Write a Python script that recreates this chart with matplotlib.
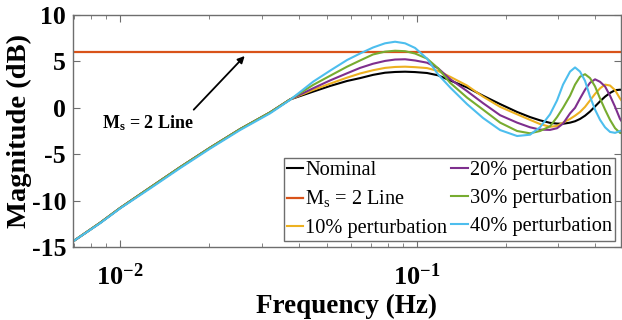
import numpy as np
import matplotlib
matplotlib.use("Agg")
import matplotlib.pyplot as plt
from matplotlib.ticker import FixedLocator, FuncFormatter, LogLocator, NullFormatter

plt.rcParams['font.family'] = ['Liberation Serif', 'DejaVu Serif']
plt.rcParams['mathtext.fontset'] = 'custom'
plt.rcParams['mathtext.rm'] = 'Liberation Serif'
plt.rcParams['mathtext.bf'] = 'Liberation Serif:bold'
plt.rcParams['axes.unicode_minus'] = False

# frequency grid (Hz)
freq = [0.00694, 0.00856, 0.0100, 0.01262, 0.01594, 0.02011, 0.02538, 0.03203,
        0.03741, 0.04472, 0.05103, 0.05822, 0.06441, 0.07125, 0.07817, 0.08451,
        0.09133, 0.09869, 0.1083, 0.1180, 0.1295, 0.1477, 0.1673, 0.1910,
        0.2179, 0.2409, 0.2603, 0.2813, 0.2971, 0.3112, 0.3286, 0.3416,
        0.3551, 0.3692, 0.3838, 0.3990, 0.4148, 0.4312, 0.4482, 0.4661,
        0.4843, 0.5036]

low_common = [-14.4, -12.4, -10.8, -8.6, -6.4, -4.3, -2.3, -0.5, 0.9]
low_blue = [-14.4, -12.45, -10.85, -8.7, -6.5, -4.4, -2.4, -0.6, 0.85]

nominal = low_common + [1.74, 2.35, 2.89, 3.2, 3.55, 3.78, 3.86, 3.89, 3.85, 3.75,
                        3.5, 2.95, 2.2, 1.3, 0.4, -0.45, -1.0, -1.35, -1.62, -1.7,
                        -1.72, -1.6, -1.45, -1.2, -0.85, -0.4, 0.15, 0.7, 1.2, 1.6,
                        1.9, 1.95, 1.9]
pert10 = low_common + [1.92, 2.6, 3.25, 3.7, 4.05, 4.3, 4.4, 4.43, 4.38, 4.28,
                       3.97, 3.35, 2.4, 1.2, 0.1, -0.7, -1.3, -1.75, -2.05, -1.95,
                       -1.6, -1.2, -0.85, -0.45, 0.1, 0.8, 1.5, 2.1, 2.5, 2.4,
                       1.9, 1.0, 0.3]
pert20 = low_common + [2.1, 2.95, 3.72, 4.3, 4.75, 5.05, 5.2, 5.23, 5.1, 4.86,
                       4.26, 3.1, 1.8, 0.5, -0.8, -1.6, -2.1, -2.35, -2.38, -2.2,
                       -1.7, -0.6, 0.0, 1.0, 1.95, 2.7, 3.07, 2.8, 2.3, 1.3,
                       0.1, -1.2, -2.0]
pert30 = low_common + [2.46, 3.45, 4.43, 5.1, 5.75, 6.05, 6.15, 6.1, 5.85, 5.3,
                       4.26, 2.7, 1.1, -0.2, -1.6, -2.5, -2.75, -2.5, -2.0, -1.0,
                       0.0, 1.3, 2.5, 3.35, 3.62, 3.2, 2.3, 1.0, -0.2, -1.3,
                       -2.2, -2.7, -2.8]
pert40 = low_blue + [2.81, 4.0, 5.15, 5.85, 6.5, 6.95, 7.12, 6.95, 6.45, 5.3,
                     3.6, 2.2, 0.4, -1.1, -2.4, -3.04, -2.9, -2.1, -0.7, 0.8,
                     2.5, 3.9, 4.35, 3.9, 2.9, 1.2, -0.2, -1.3, -2.1, -2.6,
                     -2.7, -2.5, -2.3]
ms_level = 6.0  # Ms = 2 -> 20*log10(2) dB

fig = plt.figure(figsize=(6.22, 3.2), dpi=100)
ax = fig.add_axes([73/622, 1-247/320, 548/622, 232/320])

ax.semilogx(freq, nominal, color='black', lw=1.5, label='Nominal')
ax.axhline(ms_level, color='#D95319', lw=1.6, label=r'M$_{\mathregular{s}}$ = 2 Line')
ax.semilogx(freq, pert10, color='#EDB120', lw=1.5, label='10% perturbation')
ax.semilogx(freq, pert20, color='#7E2F8E', lw=1.5, label='20% perturbation')
ax.semilogx(freq, pert30, color='#77AC30', lw=1.5, label='30% perturbation')
ax.semilogx(freq, pert40, color='#4DBEEE', lw=1.5, label='40% perturbation')

ax.set_xlim(0.00694, 0.488)
ax.set_ylim(-15, 10)

ax.xaxis.set_major_locator(FixedLocator([0.01, 0.1]))
ax.xaxis.set_major_formatter(FuncFormatter(
    lambda v, p: r'$\mathbf{10^{%d}}$' % int(round(np.log10(v)))))
ax.xaxis.set_minor_locator(LogLocator(base=10, subs=np.arange(2, 10)))
ax.xaxis.set_minor_formatter(NullFormatter())
ax.set_yticks([-15, -10, -5, 0, 5, 10])

for s in ax.spines.values():
    s.set_color('#6e6e6e')
    s.set_linewidth(1.0)
ax.tick_params(which='both', direction='in', top=True, right=True, color='#6e6e6e')
ax.tick_params(which='major', length=5)
ax.tick_params(which='minor', length=3)
ax.tick_params(axis='x', labelsize=19, pad=12)
ax.tick_params(axis='y', labelsize=18.5, pad=5)
for lbl in ax.get_yticklabels():
    lbl.set_fontweight('bold')

ax.set_xlabel('Frequency (Hz)', fontsize=19.5, fontweight='bold', labelpad=3)
ax.set_ylabel('Magnitude (dB)', fontsize=20.5, fontweight='bold', labelpad=0)

ax.text(0.0087, -2.2, r'$\mathbf{M_s}$ = 2 Line', fontsize=13, fontweight='bold',
        ha='left', va='baseline')
ax.annotate('', xy=(0.0267, 5.8), xytext=(0.01745, -0.42),
            arrowprops=dict(arrowstyle='-|>', color='black', lw=1.3, mutation_scale=10))

leg = ax.legend(loc='lower right', ncol=2, fontsize=14.7, frameon=True, fancybox=False,
                edgecolor='#6e6e6e', framealpha=1, handlelength=0.8, handletextpad=0.1,
                columnspacing=0.2, labelspacing=0.42, borderpad=0.15, borderaxespad=0.3)
leg.get_frame().set_linewidth(1.0)

fig.savefig('out.png', dpi=100)
